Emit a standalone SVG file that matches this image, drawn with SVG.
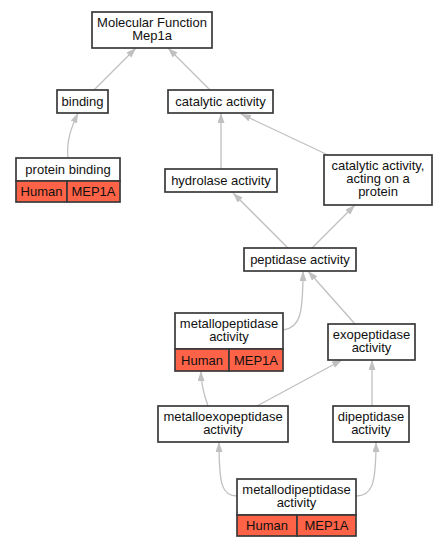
<svg xmlns="http://www.w3.org/2000/svg" width="447" height="547" viewBox="0 0 447 547">
<style>
.box{fill:#fff;stroke:#3a3a3a;stroke-width:1.7}
.gene{fill:#ff6347;stroke:#3a3a3a;stroke-width:1.7}
text{font-family:"Liberation Sans",Arial,sans-serif;font-size:13px;fill:#111;text-anchor:middle}
.edge{fill:none;stroke:#c0c0c0;stroke-width:1.3}
</style>
<defs>
<marker id="arr" markerUnits="userSpaceOnUse" markerWidth="11" markerHeight="8" refX="10" refY="3.5" orient="auto">
<path d="M0,0 L10,3.5 L0,7 z" fill="#c0c0c0"/>
</marker>
</defs>
<rect width="447" height="547" fill="#fff"/>
<g id="connectors">
<path class="edge" marker-end="url(#arr)" d="M94,90 L136,48"/>
<path class="edge" marker-end="url(#arr)" d="M210,90 L168,48"/>
<path class="edge" marker-end="url(#arr)" d="M68,158 C66,140 72,126 78,113"/>
<path class="edge" marker-end="url(#arr)" d="M221,169 L221,113"/>
<path class="edge" marker-end="url(#arr)" d="M328,155 L241,114"/>
<path class="edge" marker-end="url(#arr)" d="M288,248 L233,193"/>
<path class="edge" marker-end="url(#arr)" d="M312,248 L355,205"/>
<path class="edge" marker-end="url(#arr)" d="M283,330 C300,328 303,315 303,271"/>
<path class="edge" marker-end="url(#arr)" d="M355,324 L308,271"/>
<path class="edge" marker-end="url(#arr)" d="M208,406 C204,395 201,385 201,371"/>
<path class="edge" marker-end="url(#arr)" d="M257,406 L342,360"/>
<path class="edge" marker-end="url(#arr)" d="M372,406 L372,360"/>
<path class="edge" marker-end="url(#arr)" d="M237,496 C222,496 219,485 219,442"/>
<path class="edge" marker-end="url(#arr)" d="M356,496 C372,496 376,485 376,442"/>
</g>
<g id="mf">
<rect class="box" x="92" y="12" width="120" height="36"/>
<text x="152" y="26.5">Molecular Function</text>
<text x="152" y="39.5">Mep1a</text>
</g>
<g id="binding">
<rect class="box" x="57" y="90" width="51" height="23"/>
<text x="82.5" y="106">binding</text>
</g>
<g id="catalytic">
<rect class="box" x="168" y="90" width="105" height="23"/>
<text x="220.5" y="106">catalytic activity</text>
</g>
<g id="protein_binding">
<rect class="box" x="16" y="158" width="104" height="23"/>
<rect class="gene" x="16" y="181" width="51" height="21"/>
<rect class="gene" x="67" y="181" width="53" height="21"/>
<text x="68" y="174">protein binding</text>
<text x="41.5" y="196">Human</text>
<text x="93.5" y="196">MEP1A</text>
</g>
<g id="hydrolase">
<rect class="box" x="165" y="169" width="112" height="23"/>
<text x="221" y="185">hydrolase activity</text>
</g>
<g id="cat_protein">
<rect class="box" x="324" y="155" width="108" height="50"/>
<text x="378" y="170">catalytic activity,</text>
<text x="378" y="183">acting on a</text>
<text x="378" y="196">protein</text>
</g>
<g id="peptidase">
<rect class="box" x="244" y="248" width="112" height="23"/>
<text x="300" y="264">peptidase activity</text>
</g>
<g id="metallopeptidase">
<rect class="box" x="175" y="313" width="108" height="36"/>
<rect class="gene" x="175" y="349" width="54" height="22"/>
<rect class="gene" x="229" y="349" width="54" height="22"/>
<text x="229" y="327.5">metallopeptidase</text>
<text x="229" y="340.5">activity</text>
<text x="202" y="364.5">Human</text>
<text x="256" y="364.5">MEP1A</text>
</g>
<g id="exopeptidase">
<rect class="box" x="328" y="324" width="87" height="36"/>
<text x="371.5" y="338.5">exopeptidase</text>
<text x="371.5" y="351.5">activity</text>
</g>
<g id="metalloexopeptidase">
<rect class="box" x="158" y="406" width="130" height="36"/>
<text x="223" y="420.5">metalloexopeptidase</text>
<text x="223" y="433.5">activity</text>
</g>
<g id="dipeptidase">
<rect class="box" x="333" y="406" width="76" height="36"/>
<text x="371" y="420.5">dipeptidase</text>
<text x="371" y="433.5">activity</text>
</g>
<g id="metallodipeptidase">
<rect class="box" x="237" y="479" width="119" height="36"/>
<rect class="gene" x="237" y="515" width="60" height="21"/>
<rect class="gene" x="297" y="515" width="59" height="21"/>
<text x="296.5" y="493.5">metallodipeptidase</text>
<text x="296.5" y="506.5">activity</text>
<text x="267" y="530">Human</text>
<text x="326.5" y="530">MEP1A</text>
</g>
</svg>
